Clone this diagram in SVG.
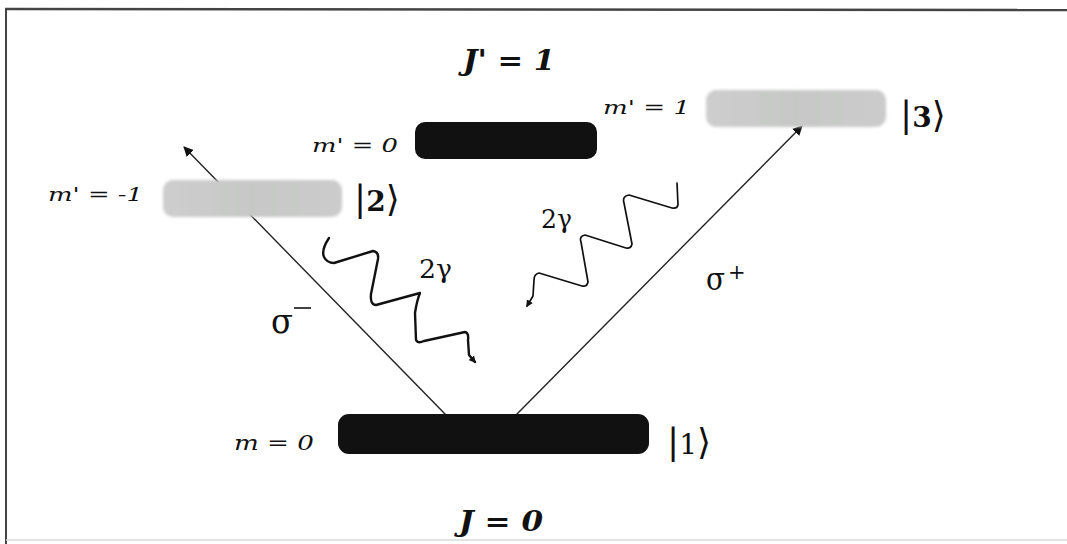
<svg xmlns="http://www.w3.org/2000/svg" width="1067" height="544" viewBox="0 0 1067 544">
  <defs>
    <filter id="soft" x="-10%" y="-30%" width="120%" height="160%">
      <feGaussianBlur stdDeviation="1.6"/>
    </filter>
    <linearGradient id="grayFill" x1="0" y1="0" x2="1" y2="0">
      <stop offset="0" stop-color="#cdcdcd"/>
      <stop offset="0.5" stop-color="#c6c8c6"/>
      <stop offset="1" stop-color="#cbcbcb"/>
    </linearGradient>
    <marker id="arrow" viewBox="0 0 10 10" refX="9" refY="5" markerWidth="10" markerHeight="10" markerUnits="userSpaceOnUse" orient="auto">
      <path d="M0,0 L10,5 L0,10 z" fill="#111"/>
    </marker>
    <marker id="arrowSmall" viewBox="0 0 10 10" refX="8" refY="5" markerWidth="7" markerHeight="7" markerUnits="userSpaceOnUse" orient="auto">
      <path d="M0,0 L10,5 L0,10 z" fill="#111"/>
    </marker>
  </defs>
  <style>
    .lbl { font-family: "DejaVu Serif", serif; font-style: italic; fill: #111; }
    .title { font-family: "DejaVu Serif", serif; font-style: italic; font-weight: bold; fill: #111; }
    .ket { font-family: "DejaVu Serif", serif; fill: #111; }
    .greek { font-family: "DejaVu Serif", serif; fill: #111; }
    .black { fill: #111; }
    .gray { fill: url(#grayFill); filter: url(#soft); }
    .conn { stroke: #222; stroke-width: 1.4; fill: none; }
    .wave { stroke: #111; fill: none; stroke-linejoin: round; stroke-linecap: round; }
    .frame { stroke: #444; fill: none; }
  </style>

  <rect x="0" y="0" width="1067" height="544" fill="#ffffff"/>

  <!-- frame -->
  <g id="frame">
    <line class="frame" x1="5" y1="9" x2="1067" y2="10" stroke-width="2.5"/>
    <line class="frame" x1="6" y1="9" x2="6" y2="544" stroke-width="2"/>
    <line x1="6" y1="540" x2="1067" y2="540" stroke="#d8d8d8" stroke-width="1.5"/>
  </g>

  <!-- connectors -->
  <g id="connectors">
    <line class="conn" x1="446" y1="415" x2="184" y2="147" marker-end="url(#arrow)"/>
    <line class="conn" x1="516" y1="415" x2="802" y2="126" marker-end="url(#arrow)"/>
    <path class="wave" stroke-width="2.4" marker-end="url(#arrowSmall)"
      d="M329,238 Q321,250 324,257 Q327,263 334,263 L373,251 Q379,252 378,259 L371,294 Q370,305 376,305 L420,293 Q417,300 415,313 L416,340 Q418,344 424,341 L465,332 Q469,333 468,340 L469,355 L475,362"/>
    <path class="wave" stroke-width="1.7" marker-end="url(#arrowSmall)"
      d="M677,183 L678,205 Q677,209 672,208 L629,195 Q622,196 624,203 L632,244 Q631,249 626,248 L585,235 Q579,236 581,242 L588,282 Q587,287 582,286 L539,273 Q534,274 534,280 L533,296 L527,306"/>
  </g>

  <!-- level m' = 0 -->
  <g id="level-mp0">
    <rect class="black" x="415" y="122" width="182" height="37" rx="10" ry="10"/>
    <text class="lbl" x="312" y="152" font-size="18" textLength="86" lengthAdjust="spacingAndGlyphs">m' = 0</text>
  </g>

  <!-- level |3> -->
  <g id="level-3">
    <rect class="gray" x="706" y="90" width="180" height="37" rx="10" ry="10"/>
    <text class="lbl" x="603" y="114" font-size="18" textLength="87" lengthAdjust="spacingAndGlyphs">m' = 1</text>
    <text class="ket" x="900" y="127" font-size="36">|<tspan font-size="28" font-weight="bold">3</tspan>⟩</text>
  </g>

  <!-- level |2> -->
  <g id="level-2">
    <rect class="gray" x="163" y="180" width="179" height="37" rx="10" ry="10"/>
    <text class="lbl" x="48" y="201" font-size="18" textLength="95" lengthAdjust="spacingAndGlyphs">m' = -1</text>
    <text class="ket" x="354" y="211" font-size="36">|<tspan font-size="28" font-weight="bold">2</tspan>⟩</text>
  </g>

  <!-- level |1> -->
  <g id="level-1">
    <rect class="black" x="338" y="414" width="311" height="40" rx="11" ry="11"/>
    <text class="lbl" x="234" y="450" font-size="21" textLength="80" lengthAdjust="spacingAndGlyphs">m = 0</text>
    <text class="ket" x="667" y="454" font-size="36">|<tspan font-size="28">1</tspan>⟩</text>
  </g>

  <!-- titles -->
  <g id="titles">
    <text class="title" x="463" y="70" font-size="27" textLength="92" lengthAdjust="spacingAndGlyphs">J' = 1</text>
    <text class="title" x="459" y="531" font-size="27" textLength="84" lengthAdjust="spacingAndGlyphs">J = 0</text>
  </g>

  <!-- transition labels -->
  <g id="labels">
    <text class="greek" x="271" y="333" font-size="36" textLength="22" lengthAdjust="spacingAndGlyphs">σ</text>
    <line x1="294" y1="308" x2="311" y2="308" stroke="#111" stroke-width="1.6"/>
    <text class="greek" x="706" y="290" font-size="32" textLength="19" lengthAdjust="spacingAndGlyphs">σ</text>
    <text class="greek" x="728" y="279" font-size="21">+</text>
    <text class="greek" x="419" y="278" font-size="26" textLength="33" lengthAdjust="spacingAndGlyphs">2γ</text>
    <text class="greek" x="541" y="228" font-size="26" textLength="31" lengthAdjust="spacingAndGlyphs">2γ</text>
  </g>
</svg>
